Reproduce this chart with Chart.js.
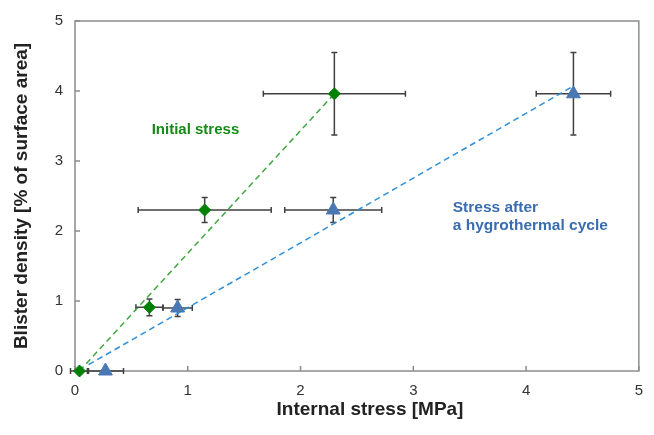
<!DOCTYPE html>
<html lang="en">
<head>
  <meta charset="UTF-8">
  <title>Blister density vs internal stress</title>
  <script src="https://cdn.jsdelivr.net/npm/chart.js"></script>
  <style>
    body { margin: 0; background: #fff; }
    #wrap { width: 654px; height: 435px; }
  </style>
</head>
<body>
  <div id="wrap"><canvas id="chart"></canvas></div>

  <script>
    // Initial stress (green diamonds)
    const initX = [0.04, 0.66, 1.15, 2.30];
    const initY = [0.0, 0.91, 2.30, 3.96];
    const initXErr = [0.08, 0.12, 0.59, 0.63];
    const initYErr = [0.0, 0.12, 0.18, 0.59];

    // Stress after a hygrothermal cycle (blue triangles)
    const cycX = [0.27, 0.91, 2.29, 4.42];
    const cycY = [0.0, 0.90, 2.30, 3.96];
    const cycXErr = [0.16, 0.13, 0.43, 0.33];
    const cycYErr = [0.0, 0.12, 0.18, 0.59];

    // dashed trend lines (start / end)
    const initTrendX = [0.04, 2.30];
    const initTrendY = [0.0, 3.96];
    const cycTrendX = [0.12, 4.42];
    const cycTrendY = [0.09, 4.07];

    const ticks = [0, 1, 2, 3, 4, 5];

    const pts = (xs, ys) => xs.map((x, i) => ({ x: x, y: ys[i] }));
    const FONT = '"Liberation Sans", Arial, sans-serif';

    // frame + inward ticks + error bars, all under the markers
    const decor = {
      id: 'decor',
      beforeDatasetsDraw(chart) {
        const ctx = chart.ctx, a = chart.chartArea;
        const xs = chart.scales.x, ys = chart.scales.y;
        ctx.save();
        ctx.strokeStyle = '#8c8c8c';
        ctx.lineWidth = 1.5;
        ctx.strokeRect(a.left, a.top, a.right - a.left, a.bottom - a.top);
        ctx.beginPath();
        ticks.forEach(t => {
          const px = xs.getPixelForValue(t);
          ctx.moveTo(px, a.bottom); ctx.lineTo(px, a.bottom - 5);
          const py = ys.getPixelForValue(t);
          ctx.moveTo(a.left, py); ctx.lineTo(a.left + 5, py);
        });
        ctx.stroke();

        // error bars
        const sets = [
          [initX, initY, initXErr, initYErr],
          [cycX, cycY, cycXErr, cycYErr]
        ];
        ctx.strokeStyle = '#404040';
        ctx.lineWidth = 1.5;
        sets.forEach(s => {
          s[0].forEach((x, i) => {
            const px = xs.getPixelForValue(x), py = ys.getPixelForValue(s[1][i]);
            const ex = s[2][i], ey = s[3][i];
            ctx.beginPath();
            if (ex > 0) {
              const l = xs.getPixelForValue(x - ex), r = xs.getPixelForValue(x + ex);
              ctx.moveTo(l, py); ctx.lineTo(r, py);
              ctx.moveTo(l, py - 3); ctx.lineTo(l, py + 3);
              ctx.moveTo(r, py - 3); ctx.lineTo(r, py + 3);
            }
            if (ey > 0) {
              const t = ys.getPixelForValue(s[1][i] + ey), b = ys.getPixelForValue(s[1][i] - ey);
              ctx.moveTo(px, t); ctx.lineTo(px, b);
              ctx.moveTo(px - 3, t); ctx.lineTo(px + 3, t);
              ctx.moveTo(px - 3, b); ctx.lineTo(px + 3, b);
            }
            ctx.stroke();
          });
        });
        ctx.restore();
      },
      afterDraw(chart) {
        const ctx = chart.ctx;
        const xs = chart.scales.x, ys = chart.scales.y;
        ctx.save();
        ctx.textBaseline = 'middle';
        // x axis title (sits a little right of centre in the original)
        ctx.font = 'bold 19px ' + FONT;
        ctx.fillStyle = '#222';
        ctx.textAlign = 'center';
        ctx.fillText('Internal stress [MPa]', 370, 410);
        ctx.textAlign = 'left';
        ctx.font = 'bold 15px ' + FONT;
        ctx.fillStyle = '#168a16';
        ctx.fillText('Initial stress', xs.getPixelForValue(0.68), ys.getPixelForValue(3.45));
        ctx.font = 'bold 15.5px ' + FONT;
        ctx.fillStyle = '#3a6cb0';
        ctx.fillText('Stress after', xs.getPixelForValue(3.35), ys.getPixelForValue(2.33));
        ctx.fillText('a hygrothermal cycle', xs.getPixelForValue(3.35), ys.getPixelForValue(2.08));
        ctx.restore();
      }
    };

    const ctx = document.getElementById('chart').getContext('2d');
    new Chart(ctx, {
      type: 'scatter',
      data: {
        datasets: [
          {
            label: 'Initial trend',
            data: pts(initTrendX, initTrendY),
            showLine: true,
            borderColor: '#3fa83f',
            borderWidth: 1.5,
            borderDash: [6, 4],
            pointRadius: 0,
            fill: false
          },
          {
            label: 'Cycle trend',
            data: pts(cycTrendX, cycTrendY),
            showLine: true,
            borderColor: '#2e8fd9',
            borderWidth: 1.5,
            borderDash: [6, 4],
            pointRadius: 0,
            fill: false
          },
          {
            label: 'Initial stress',
            data: pts(initX, initY),
            pointStyle: 'rectRot',
            pointRadius: 6,
            backgroundColor: '#008000',
            borderColor: '#008000',
            order: -1
          },
          {
            label: 'Stress after a hygrothermal cycle',
            data: pts(cycX, cycY),
            pointStyle: 'triangle',
            pointRadius: 8,
            backgroundColor: '#4a78b4',
            borderColor: '#4a78b4',
            order: -1
          }
        ]
      },
      options: {
        responsive: true,
        maintainAspectRatio: false,
        animation: false,
        clip: false,
        layout: { padding: { top: 20, right: 14, left: 8, bottom: 8 } },
        plugins: {
          legend: { display: false },
          tooltip: { enabled: false }
        },
        scales: {
          x: {
            type: 'linear',
            min: 0, max: 5,
            grid: { display: false, drawTicks: false },
            border: { display: false },
            afterFit: s => { s.height = 56; },
            ticks: { stepSize: 1, color: '#333', padding: 11, font: { size: 15, family: FONT } },
            title: { display: false }
          },
          y: {
            type: 'linear',
            min: 0, max: 5,
            grid: { display: false, drawTicks: false },
            border: { display: false },
            afterFit: s => { s.width = 67; },
            ticks: { stepSize: 1, color: '#333', padding: 12, font: { size: 15, family: FONT } },
            title: { display: true, text: 'Blister density [% of surface area]', color: '#222', padding: { top: 2, bottom: 0 }, font: { size: 19, weight: 'bold', family: FONT } }
          }
        }
      },
      plugins: [decor]
    });
  </script>
</body>
</html>
